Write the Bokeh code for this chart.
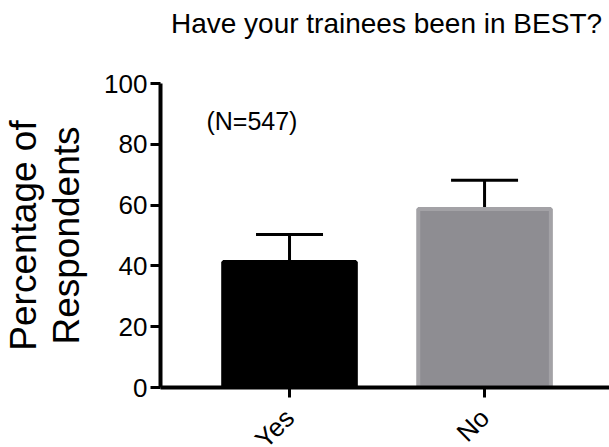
from math import pi
from bokeh.plotting import figure
from bokeh.models import Range1d, FixedTicker, Label, Whisker, TeeHead, ColumnDataSource, Title
from bokeh.embed import file_html
from bokeh.resources import INLINE

categories = ["Yes", "No"]
positions = [1, 2]
values = [41.3, 58.7]
errors = [9.0, 9.5]
colors = ["#000000", "#8e8d92"]
outlines = ["#000000", "#a3a2a6"]
y_ticks = [0, 20, 40, 60, 80, 100]
title_text = "Have your trainees been in BEST?"
note_text = "(N=547)"

FONT = "Liberation Sans"

upper = [v + e for v, e in zip(values, errors)]
src = ColumnDataSource(dict(x=positions, top=values, upper=upper, color=colors, line=outlines))

p = figure(
    output_backend="svg", toolbar_location=None,
    frame_width=452, frame_height=304,
    min_border_left=157, min_border_right=0, min_border_top=83, min_border_bottom=52,
    x_range=Range1d(0.3385, 2.656), y_range=Range1d(0, 100),
)
p.outline_line_color = None
p.grid.visible = False
p.background_fill_color = "white"
p.border_fill_color = "white"

# spacer band between the frame and the title
p.add_layout(Title(text=" ", text_font=FONT, text_font_size="39px", standoff=0), "above")
p.add_layout(Title(text=title_text, text_font=FONT, text_font_size="28px",
                   text_font_style="normal", text_color="#000000",
                   align="center", standoff=0, offset=-3), "above")

p.vbar(x="x", top="top", width=0.68, bottom=0, source=src,
       fill_color="color", line_color="line", line_width=4)

w = Whisker(base="x", upper="upper", lower="top", source=src,
            line_color="black", line_width=3,
            upper_head=TeeHead(size=67, line_width=3, line_color="black"),
            lower_head=None)
p.add_layout(w)

p.add_layout(Label(x=0.574, y=83, text=note_text, text_font=FONT,
                   text_font_size="25px", text_color="black"))

ya = p.yaxis[0]
ya.ticker = FixedTicker(ticks=y_ticks)
ya.axis_line_width = 4
ya.axis_line_color = "black"
ya.major_tick_line_width = 3
ya.major_tick_line_color = "black"
ya.major_tick_out = 10
ya.major_tick_in = 0
ya.minor_tick_line_color = None
ya.major_label_text_font = FONT
ya.major_label_text_font_size = "26px"
ya.major_label_text_color = "black"
ya.major_label_standoff = 3
ya.axis_label = "Percentage of\nRespondents"
ya.axis_label_text_font = FONT
ya.axis_label_text_font_size = "37px"
ya.axis_label_text_font_style = "normal"
ya.axis_label_text_color = "black"
ya.axis_label_text_line_height = 1.05
ya.axis_label_standoff = 14

xa = p.xaxis[0]
xa.ticker = FixedTicker(ticks=positions)
xa.major_label_overrides = {pos: c for pos, c in zip(positions, categories)}
xa.major_label_orientation = pi / 4
xa.axis_line_width = 4
xa.axis_line_color = "black"
xa.major_tick_line_width = 3
xa.major_tick_line_color = "black"
xa.major_tick_out = 10
xa.major_tick_in = 0
xa.minor_tick_line_color = None
xa.major_label_text_font = FONT
xa.major_label_text_font_size = "26px"
xa.major_label_text_color = "black"
xa.major_label_standoff = 16

open("out.html", "w").write(file_html(p, INLINE))
